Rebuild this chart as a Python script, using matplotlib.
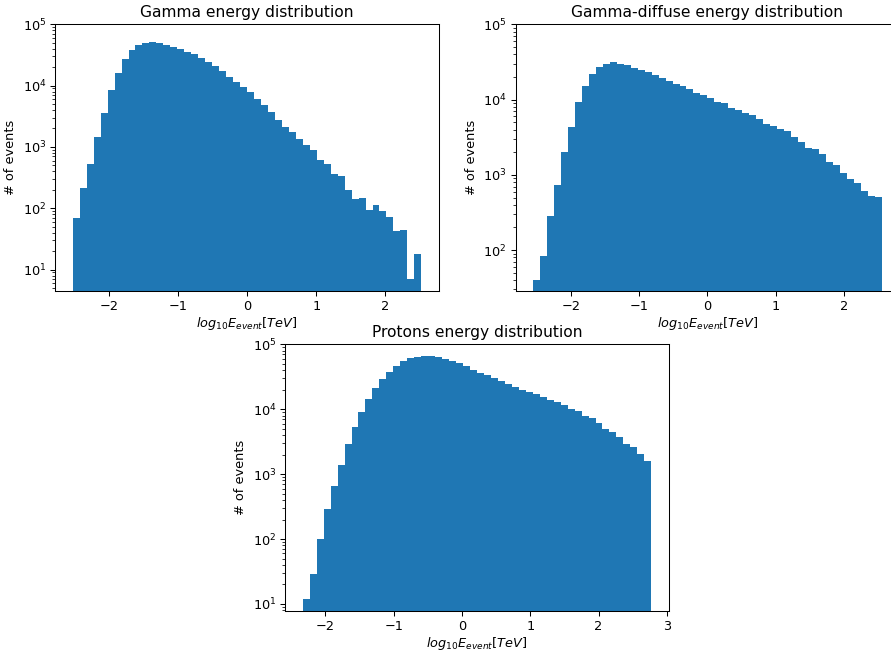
import matplotlib
matplotlib.use("Agg")
import matplotlib.pyplot as plt
import numpy as np

    # counts per bin (50 bins each)

gamma_range = (-2.525, 2.52)
gamma_counts = [69, 215, 528, 1470, 3580, 8500, 16100, 27200, 38200, 46000,
                50200, 51500, 49600, 46000, 42700, 39600, 35400, 32400, 27900, 24300,
                20900, 17300, 14000, 11500, 9400, 7780, 6060, 4840, 3680, 2720,
                2120, 1730, 1350, 1080, 893, 606, 528, 367, 336, 199,
                142, 147, 94, 113, 91, 71, 43, 45, 7, 18]

diffuse_range = (-2.553, 2.553)
diffuse_counts = [40, 83, 283, 731, 2010, 4320, 9290, 15100, 21900, 27100,
                  30000, 31600, 30000, 28800, 26500, 24700, 23200, 21000, 19500, 17800,
                  16100, 15100, 13800, 12400, 11500, 10500, 9290, 9000, 7720, 7270,
                  6630, 6230, 5520, 4740, 4450, 4060, 3820, 3180, 2730, 2270,
                  2200, 1890, 1480, 1350, 1060, 880, 778, 610, 523, 507]

proton_range = (-2.331, 2.771)
proton_counts = [12, 29, 99, 288, 661, 1380, 2900, 5310, 9040, 14400,
                 21200, 29200, 37400, 46300, 55300, 61500, 64500, 66900, 66500, 63800,
                 59500, 55300, 52100, 46300, 40200, 36100, 33700, 30300, 27200, 24400,
                 22000, 19800, 18600, 17100, 15400, 13800, 12900, 11600, 10100, 9380,
                 7850, 7220, 6120, 4950, 4440, 3720, 2900, 2610, 2030, 1580]

titles = ["Gamma energy distribution", "Gamma-diffuse energy distribution",
          "Protons energy distribution"]
xlabel = "$log_{10}E_{event}[TeV]$"


def draw(ax, rng, counts, title):
    edges = np.linspace(rng[0], rng[1], len(counts) + 1)
    centers = 0.5 * (edges[:-1] + edges[1:])
    ax.hist(centers, bins=edges, weights=counts, log=True, color="#1f77b4")
    ax.set_ylim(top=1e5)
    ax.set_title(title)
    ax.set_xlabel(xlabel, labelpad=1.5)
    ax.set_ylabel("# of events")


# a bit lower dpi than 100 so text comes out the size it has in the reference
dpi = 93
fig = plt.figure(figsize=(891 / dpi, 653 / dpi), dpi=dpi)
w, h = 0.4303, 0.4084
ax1 = fig.add_axes([0.0621, 0.5544, w, h])
ax2 = fig.add_axes([0.5788, 0.5544, w, h])   # runs past the right edge, like the original
ax3 = fig.add_axes([0.3202, 0.0643, w, h])

draw(ax1, gamma_range, gamma_counts, titles[0])
draw(ax2, diffuse_range, diffuse_counts, titles[1])
draw(ax3, proton_range, proton_counts, titles[2])

fig.savefig("out.png", dpi=dpi)
